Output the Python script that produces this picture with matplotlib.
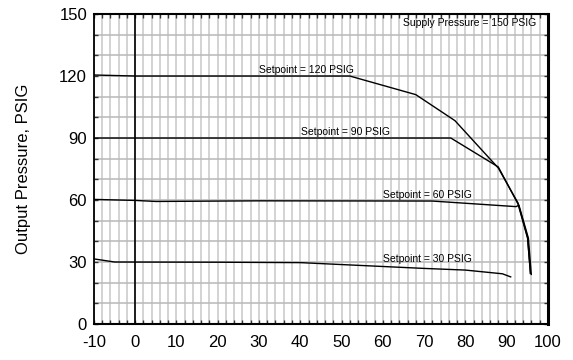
#!/usr/bin/env python3

import numpy as np
import matplotlib
matplotlib.use('Agg')
import matplotlib.pyplot as plt
from matplotlib.ticker import MultipleLocator

plt.rcParams['font.family'] = ['Liberation Sans', 'DejaVu Sans']
plt.rcParams['axes.unicode_minus'] = False

# flow (x) vs output pressure (y) for each setpoint
sp120_x = [-10, 0, 52, 68, 77.5, 88, 92.8, 95.1, 95.8]
sp120_y = [120.5, 120, 120, 111, 98.4, 75.5, 58.5, 42, 24.5]

sp90_x = [-10, 76.5, 88, 92.8, 95.1, 95.8]
sp90_y = [90, 90, 76, 58, 41.5, 24.5]

sp60_x = [-10, 0, 5, 30, 72, 92.3, 93.0, 95.3, 96.0]
sp60_y = [60.3, 59.8, 59.3, 59.6, 59.5, 56.8, 57.5, 41.5, 24]

sp30_x = [-10, -5, 20, 40, 70, 80, 89, 91]
sp30_y = [31.5, 30, 29.9, 29.7, 26.9, 26.1, 24.3, 22.8]

labels = ["Setpoint = 120 PSIG", "Setpoint = 90 PSIG",
          "Setpoint = 60 PSIG", "Setpoint = 30 PSIG"]
label_pos = [(30, 121.5), (40.3, 91.3), (60, 61.2), (60.1, 30.2)]

#------------------------------------------------------------
fig = plt.figure(figsize=(5.73, 3.6), dpi=100)
ax = fig.add_axes([0.164, 0.1, 0.792, 0.861])

ax.set_xlim(-10, 100)
ax.set_ylim(0, 150)

ax.xaxis.set_major_locator(MultipleLocator(10))
ax.xaxis.set_minor_locator(MultipleLocator(2))
ax.yaxis.set_major_locator(MultipleLocator(30))
ax.yaxis.set_minor_locator(MultipleLocator(10))

ax.grid(True, which='both', axis='x', color='#cccccc', linewidth=1.2)
ax.grid(True, which='both', axis='y', color='#b8b8b8', linewidth=1.1)
ax.set_axisbelow(True)
ax.axvline(0, color='black', linewidth=1.2, zorder=1.5)

ax.tick_params(which='both', direction='in', top=True, right=True,
               length=3, width=1, color='#333333', labelsize=12)
ax.tick_params(axis='x', which='both', pad=8)
ax.tick_params(axis='y', which='both', pad=5)

for xs, ys in [(sp120_x, sp120_y), (sp90_x, sp90_y), (sp60_x, sp60_y), (sp30_x, sp30_y)]:
    ax.plot(xs, ys, color='black', linewidth=1.0)

for txt, (tx, ty) in zip(labels, label_pos):
    ax.text(tx, ty, txt, fontsize=7.5, ha='left', va='baseline')

ax.text(64.8, 144.0, "Supply Pressure = 150 PSIG", fontsize=7.5, ha='left', va='baseline')

ax.set_ylabel("Output Pressure, PSIG", fontsize=12, labelpad=20)

for side, w in [('left', 1.3), ('bottom', 1.5), ('top', 1.5), ('right', 2.2)]:
    ax.spines[side].set_linewidth(w)
    ax.spines[side].set_color('black')

plt.savefig("out.png", dpi=100)
